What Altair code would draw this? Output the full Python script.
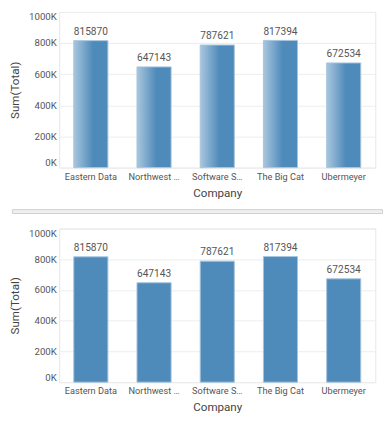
import altair as alt
import pandas as pd

companies = ["Eastern Data", "Northwest Traders", "Software Solutions", "The Big Cat", "Ubermeyer"]
totals = [815870, 647143, 787621, 817394, 672534]
y_ticks = [0, 200000, 400000, 600000, 800000, 1000000]

df = pd.DataFrame({"Company": companies, "Total": totals})

W = 327
H1, H2 = 161, 159
FONT = "Roboto"

x_enc = alt.X(
    "Company:N",
    title="Company",
    sort=companies,
    scale=alt.Scale(paddingInner=0.46, paddingOuter=0.23),
    axis=alt.Axis(labelAngle=0, labelLimit=56, ticks=False, domain=False,
                  labelFontSize=9.5, labelColor="#555", labelPadding=4,
                  labelOverlap=False,
                  titleFontSize=12, titleColor="#444", titleFontWeight="normal",
                  titlePadding=7, labelFont=FONT, titleFont=FONT),
)
y_enc = alt.Y(
    "Total:Q",
    title="Sum(Total)",
    scale=alt.Scale(domain=[0, 1000000], nice=False, zero=True),
    axis=alt.Axis(values=y_ticks, labelExpr="(datum.value/1000) + 'K'",
                  labelFlush=True, labelOverlap=False, ticks=False, domain=False,
                  labelFontSize=10, labelColor="#555", labelPadding=3,
                  gridColor="#ececec", titleFontSize=12, titleColor="#444",
                  titleFontWeight="normal", titlePadding=7,
                  labelFont=FONT, titleFont=FONT),
)

grad = alt.Gradient(
    gradient="linear",
    x1=0, x2=1, y1=0, y2=0,
    stops=[alt.GradientStop(color="#a9c6de", offset=0),
           alt.GradientStop(color="#4f8bba", offset=0.56),
           alt.GradientStop(color="#4f8bba", offset=1)],
)

def panel(fill, H, with_sep):
    base = alt.Chart(df)
    bars = base.mark_bar(fill=fill, stroke="#a6c5de", strokeWidth=1).encode(x=x_enc, y=y_enc)
    text = base.mark_text(baseline="bottom", dy=-4, fontSize=10.5, color="#555", font=FONT).encode(
        x=x_enc,
        y=y_enc,
        text=alt.Text("Total:Q", format="d"),
    )
    layers = [bars, text]
    if with_sep:
        sep = alt.Chart(df.head(1)).mark_rect(fill="#efefef", stroke="#cfcfcf", strokeWidth=1, clip=False).encode(
            x=alt.value(-48.5), x2=alt.value(W + 7.5),
            y=alt.value(H + 43.5), y2=alt.value(H + 47.5),
        )
        layers.append(sep)
    return alt.layer(*layers).properties(width=W, height=H)

chart = alt.vconcat(panel(grad, H1, True), panel("#4f8bba", H2, False), spacing=13).properties(
    padding={"left": 0, "top": -4, "right": 0, "bottom": 0}
).configure_view(stroke="#e6e6e6").configure_concat(spacing=13)

chart.save("out.html", embed_options={"renderer": "svg", "actions": False})
